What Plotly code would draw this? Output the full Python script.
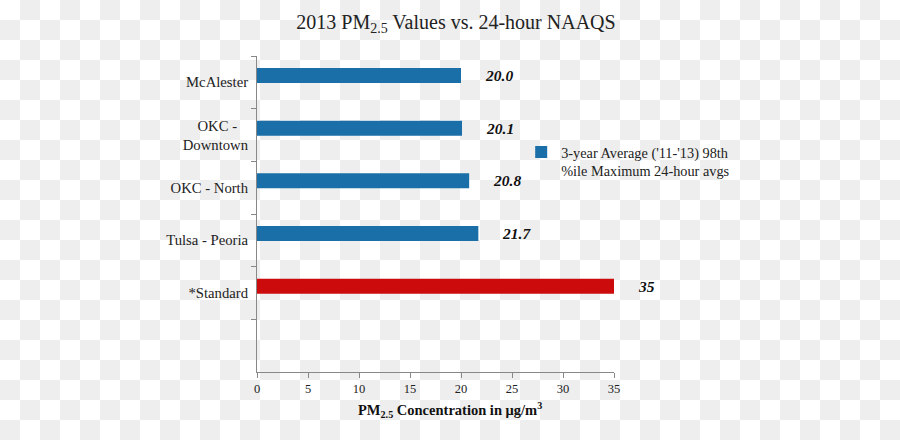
import base64
import struct
import zlib
import plotly.graph_objects as go

# ---- data ----
categories = ["McAlester", "OKC -<br>Downtown", "OKC - North", "Tulsa - Peoria", "*Standard"]
tick_labels = ["McAlester", "OKC -\u00a0\u00a0\u00a0<br>Downtown", "OKC - North", "Tulsa - Peoria", "*Standard"]
stations = ["McAlester", "OKC -<br>Downtown", "OKC - North", "Tulsa - Peoria"]
station_values = [20.0, 20.1, 20.8, 21.7]
station_labels = ["20.0", "20.1", "20.8", "21.7"]
standard_cat = ["*Standard"]
standard_values = [35]
standard_labels = ["35"]
series_name = "3-year Average ('11-'13) 98th<br>%ile Maximum 24-hour avgs"
x_title = "PM<sub>2.5</sub> Concentration in μg/m<sup>3</sup>"
x_ticks = [0, 5, 10, 15, 20, 25, 30, 35]
n_slots = 6  # five categories plus one empty slot at the bottom

BLUE = "#1b6fa8"
RED = "#cc0c0c"
SERIF = "Liberation Serif"

# plot geometry
L, R, T, B = 257, 286, 56, 68
W, H = 900, 440
PW, PH = W - L - R, H - T - B

bar_w = 0.285
bar_off = -0.13 - bar_w / 2


def checker_png(w, h, cell=20, light=255, dark=238):
    rows = []
    for yy in range(h):
        row = bytearray([0])
        for xx in range(w):
            row.append(dark if ((xx // cell) + (yy // cell)) % 2 else light)
        rows.append(bytes(row))
    raw = b"".join(rows)

    def chunk(tag, data):
        c = struct.pack(">I", len(data)) + tag + data
        return c + struct.pack(">I", zlib.crc32(tag + data) & 0xffffffff)

    png = b"\x89PNG\r\n\x1a\n"
    png += chunk(b"IHDR", struct.pack(">IIBBBBB", w, h, 8, 0, 0, 0, 0))
    png += chunk(b"IDAT", zlib.compress(raw, 9))
    png += chunk(b"IEND", b"")
    return "data:image/png;base64," + base64.b64encode(png).decode()


fig = go.Figure()
fig.add_trace(go.Bar(
    y=stations, x=station_values, orientation="h", name=series_name,
    marker=dict(color=BLUE, line=dict(width=0)),
    width=bar_w, offset=bar_off, showlegend=True,
))
fig.add_trace(go.Bar(
    y=standard_cat, x=standard_values, orientation="h", name="Standard",
    marker=dict(color=RED, line=dict(width=0)),
    width=bar_w, offset=bar_off, showlegend=False,
))

# value labels
for cats, vals, labs in ((stations, station_values, station_labels),
                         (standard_cat, standard_values, standard_labels)):
    for c, v, t in zip(cats, vals, labs):
        fig.add_annotation(
            x=v, y=c, text=t, showarrow=False, xanchor="left", yanchor="middle",
            xshift=22, yshift=0.13 * PH / n_slots,
            font=dict(family=SERIF, size=15.5, color="#111", weight="bold", style="italic"),
        )

# x-axis title (centred on the figure, as in the reference)
fig.add_annotation(
    text=x_title, xref="paper", yref="paper",
    x=(W / 2 - L) / PW, y=-(410 - (H - B)) / PH,
    xanchor="center", yanchor="middle", showarrow=False,
    font=dict(family=SERIF, size=14.5, color="#111", weight="bold"),
)

# checkerboard backdrop
fig.add_layout_image(dict(
    source=checker_png(W, H), xref="paper", yref="paper",
    x=-L / PW, y=1 + T / PH, sizex=W / PW, sizey=H / PH,
    xanchor="left", yanchor="top", sizing="stretch", layer="below",
))

fig.update_layout(
    width=W, height=H,
    margin=dict(l=L, r=R, t=T, b=B, pad=0, autoexpand=False),
    paper_bgcolor="white", plot_bgcolor="rgba(0,0,0,0)",
    title=dict(
        text="2013 PM<sub>2.5</sub> Values vs. 24-hour NAAQS",
        x=456 / W, xanchor="center", xref="container",
        y=1 - 22 / H, yanchor="middle", yref="container",
        font=dict(family=SERIF, size=20, color="#222"),
    ),
    legend=dict(
        x=0.74, y=0.746, xanchor="left", yanchor="top",
        bgcolor="rgba(0,0,0,0)", valign="top",
        font=dict(family=SERIF, size=14.3, color="#222"),
    ),
    font=dict(family=SERIF, color="#222"),
)
fig.update_xaxes(
    range=[0, 35], tickvals=x_ticks, ticks="outside", ticklen=5, tickcolor="#888",
    showline=True, linecolor="#888", linewidth=1, showgrid=False, zeroline=False,
    automargin=False,
    tickfont=dict(family=SERIF, size=12.5, color="#222"),
)
fig.update_yaxes(
    type="category", categoryorder="array", categoryarray=categories,
    tickvals=categories, ticktext=tick_labels,
    range=[n_slots - 0.5, -0.5], tickson="boundaries",
    ticks="outside", ticklen=5, tickcolor="#888", ticklabelstandoff=5,
    showline=True, linecolor="#888", linewidth=1, showgrid=False, zeroline=False,
    automargin=False,
    tickfont=dict(family=SERIF, size=14.7, color="#222"),
)

fig.write_html(
    "out.html",
    config={"displayModeBar": False},
    post_script="document.body.style.margin='0';document.body.style.overflow='hidden';",
)
